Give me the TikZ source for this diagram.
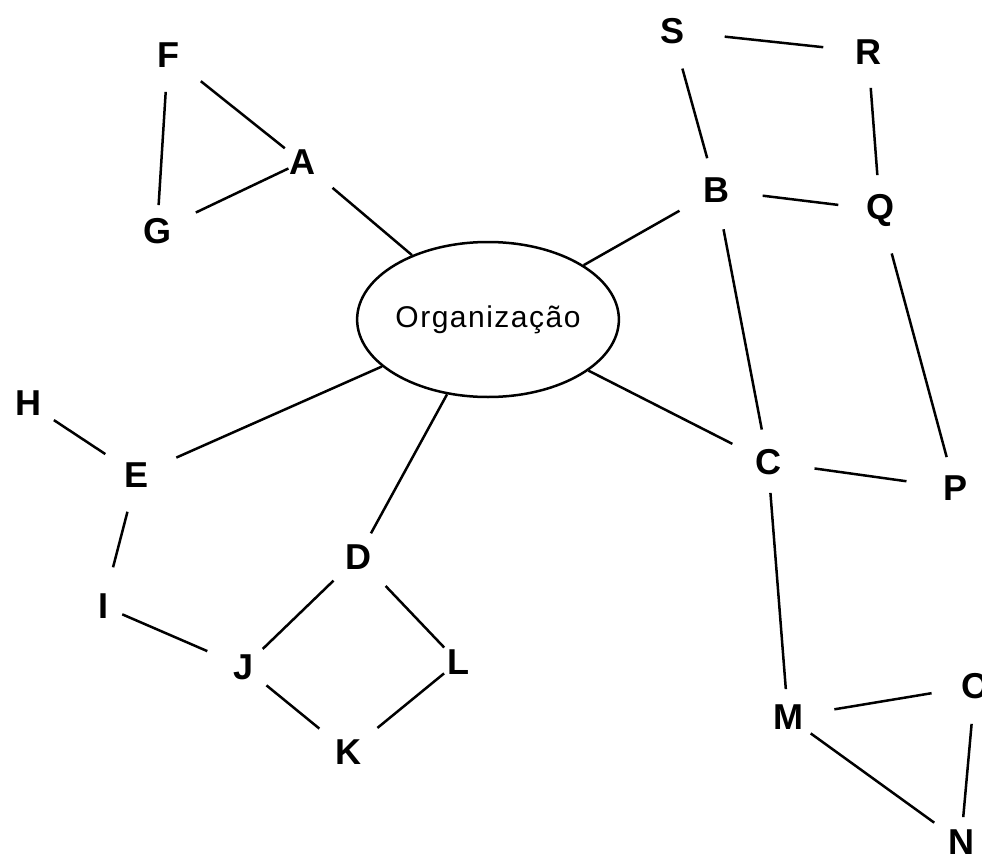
\documentclass[tikz,border=0pt]{standalone}
\usepackage{fontspec}
\setmainfont{Liberation Sans}
\usetikzlibrary{shapes.geometric}
\tikzset{
  lbl/.style={font=\fontsize{36}{36}\selectfont\bfseries, inner sep=0pt},
  edge/.style={line width=2.5pt},
  org/.style={draw, ellipse, line width=2.5pt, minimum width=240pt, minimum height=155pt, inner sep=0pt,
    font=\fontsize{30}{30}\addfontfeatures{LetterSpace=5}\selectfont}
}
\newcommand{\cn}[4]{\draw[edge, shorten <=#3pt, shorten >=#4pt] (#1.center) -- (#2.center);}
\begin{document}
\begin{tikzpicture}[x=1pt,y=-1pt]
\useasboundingbox (0,0) rectangle (982,856);
\clip (0,0) rectangle (982,856);
\node[lbl] (S) at (672,31) {S};
\node[lbl] (R) at (868,52) {R};
\node[lbl] (F) at (168,55) {F};
\node[lbl] (A) at (302,162) {A};
\node[lbl] (B) at (716,190) {B};
\node[lbl] (Q) at (880,210) {Q};
\node[lbl] (G) at (157,231) {G};
\node[org] (Org) at (488,319.5) {Organização};
\node[lbl] (H) at (28,403) {H};
\node[lbl] (E) at (137,475) {E};
\node[lbl] (C) at (768,462) {C};
\node[lbl] (P) at (955,488) {P};
\node[lbl] (D) at (358,557) {D};
\node[lbl] (I) at (103,606) {I};
\node[lbl] (J) at (244,667) {J};
\node[lbl] (L) at (458,662) {L};
\node[lbl] (M) at (788,717) {M};
\node[lbl] (O) at (975,686) {O};
\node[lbl] (K) at (348,752) {K};
\node[lbl] (N) at (961,842) {N};
\cn{F}{A}{42}{22}
\cn{F}{G}{37}{26}
\cn{G}{A}{43}{15}
\draw[edge, shorten <=40pt] (A.center) -- (Org);
\draw[edge, shorten >=42pt] (Org) -- (B.center);
\cn{S}{B}{39}{33}
\cn{S}{R}{53}{45}
\cn{R}{Q}{36}{35}
\cn{B}{Q}{47}{42}
\cn{B}{C}{40}{33}
\cn{Q}{P}{45}{32}
\draw[edge, shorten >=40pt] (Org) -- (C.center);
\cn{C}{P}{47}{49}
\cn{C}{M}{31}{28}
\cn{M}{O}{47}{44}
\cn{O}{N}{38}{25}
\cn{M}{N}{28}{33}
\draw[edge, shorten >=43pt] (Org) -- (E.center);
\draw[edge, shorten >=27pt] (Org) -- (D.center);
\cn{H}{E}{31}{38}
\cn{E}{I}{38}{40}
\cn{I}{J}{21}{40}
\cn{D}{J}{34}{26}
\cn{D}{L}{40}{20}
\cn{J}{K}{29}{37}
\cn{L}{K}{18}{38}
\end{tikzpicture}
\end{document}
